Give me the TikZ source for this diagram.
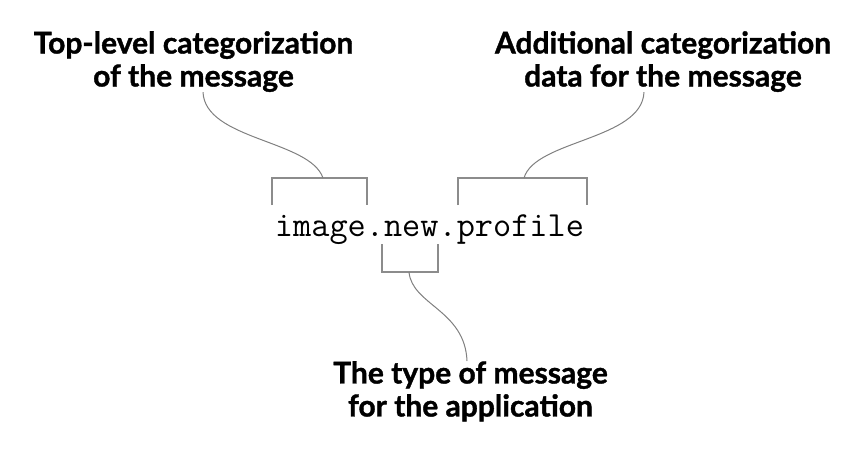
\documentclass[tikz,border=0pt]{standalone}
\usepackage{fontspec}
\usepackage{tikz}
\newfontfamily\labelfont{Lato}[BoldFeatures={FakeBold=1.2}]

\begin{document}
\begin{tikzpicture}[x=1pt,y=-1pt,
    lbl/.style={font=\labelfont\bfseries\fontsize{30}{33}\selectfont, align=center, inner sep=0pt},
    brk/.style={draw=black!45, line width=1.1pt},
    lead/.style={draw=black!50, line width=1pt}]
        \useasboundingbox (0,0) rectangle (868,456);
        % the routing key
        \node[font=\ttfamily\fontsize{35.3}{38}\selectfont, inner sep=0pt, anchor=base] (key) at (429.5,236) {image.new.profile};
        % the three labels
        \node[lbl, anchor=north] (topcat) at (193.5,31) {Top-level categorization\\of the message};
        \node[lbl, anchor=north] (extracat) at (663,31) {Additional categorization\\data for the message};
        \node[lbl, anchor=north] (msgtype) at (470.5,361) {The type of message\\for the application};
        % brackets over and under the words
        \draw[brk] (272,205) -- (272,178) -- (367,178) -- (367,205);
        \draw[brk] (458,205) -- (458,178) -- (587,178) -- (587,205);
        \draw[brk] (382,244) -- (382,272) -- (438,272) -- (438,244);
        \coordinate (imgtop) at (323,178);
        \coordinate (protop) at (524,178);
        \coordinate (newbot) at (409,272);
        % leaders
        \draw[lead] (imgtop) .. controls (310,140) and (205,140) .. (topcat.south -| 203,0) ++(0,11);
        \draw[lead] (protop) .. controls (535,140) and (642,140) .. (extracat.south -| 644,0) ++(0,11);
        \draw[lead] (newbot) .. controls (412,305) and (465,310) .. (msgtype.north -| 467,0) ++(0,-13);
    \end{tikzpicture}
\end{document}
